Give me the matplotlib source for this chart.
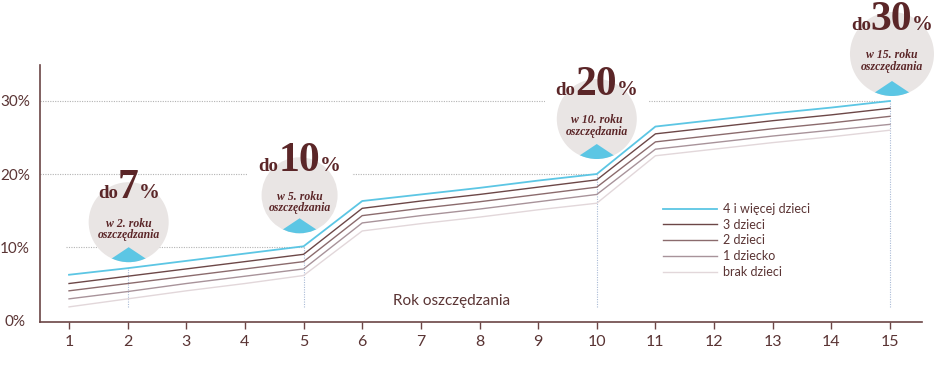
import matplotlib
matplotlib.use("Agg")
import matplotlib.pyplot as plt
import matplotlib.transforms as mtransforms
from matplotlib.patches import Circle, Polygon, Rectangle
from matplotlib.offsetbox import TextArea, HPacker, AnnotationBbox

plt.rcParams['font.family'] = ['Lato', 'DejaVu Sans']

# data (% of savings bonus by year)
years = list(range(1, 16))
kids_4plus = [6.2, 7.1, 8.1, 9.1, 10.1, 16.3, 17.2, 18.1, 19.1, 20.0, 26.5, 27.4, 28.3, 29.1, 30.0]
kids_3 = [5.0, 6.0, 7.0, 8.0, 9.0, 15.3, 16.3, 17.2, 18.2, 19.2, 25.5, 26.4, 27.3, 28.1, 29.0]
kids_2 = [4.0, 5.0, 6.0, 7.0, 8.0, 14.3, 15.3, 16.2, 17.2, 18.2, 24.4, 25.3, 26.2, 27.0, 27.9]
kids_1 = [2.9, 3.9, 5.0, 6.0, 7.0, 13.3, 14.3, 15.2, 16.2, 17.2, 23.4, 24.3, 25.2, 26.0, 26.8]
kids_0 = [1.8, 2.9, 4.0, 5.0, 6.1, 12.2, 13.2, 14.1, 15.1, 16.0, 22.5, 23.4, 24.3, 25.1, 26.0]

series = [kids_4plus, kids_3, kids_2, kids_1, kids_0]
series_labels = ["4 i więcej dzieci", "3 dzieci", "2 dzieci", "1 dziecko", "brak dzieci"]
series_colors = ["#5cc6e4", "#6c4747", "#8b6b6d", "#a8939a", "#e2d7da"]

milestone_years = [2, 5, 10, 15]
milestone_pct = ["7", "10", "20", "30"]
grid_levels = [10, 20, 30]
grid_start = [0.95, 0.5, 0.5]
grid_end = [5, 10, 15]
y_ticks = [0, 10, 20, 30]
y_ticklabels = ["0%", "10%", "20%", "30%"]

# bubble layout, pixels relative to the milestone point
bub_dx = [1, -4, 0, 2]
bub_dy = [46, 51, 55, 47]
bub_r = [40, 38, 40, 42]

DPI = 100
BROWN = "#5b2628"
AXIS = "#6b4545"
TEXT = "#5a3434"
CIRCLE = "#e9e5e4"
CYAN = "#5cc6e4"
SERIF = ["Liberation Serif", "DejaVu Serif"]
BIG = 30


def px(v):
    return v / DPI


fig = plt.figure(figsize=(9.45, 3.69), dpi=DPI)
ax = fig.add_axes([40 / 945, 47 / 369, 882 / 945, 257 / 369])
ax.set_xlim(0.505, 15.546)
ax.set_ylim(-0.27, 34.93)

# grid and milestone guides
for lvl, x0, x1 in zip(grid_levels, grid_start, grid_end):
    ax.hlines(lvl, x0, x1, color="#b3b3b3", linestyles=(0, (1, 1.2)), lw=0.8, zorder=1)
for yr in milestone_years:
    ax.vlines(yr, 1.8, kids_4plus[years.index(yr)], color="#a9bad6",
              linestyles=(0, (1, 1.2)), lw=0.8, zorder=1)

# lines, lightest first so blue is on top
for vals, lab, col in reversed(list(zip(series, series_labels, series_colors))):
    lw = 1.3 if col == CYAN else 1.0
    ax.plot(years, vals, color=col, lw=lw, label=lab, zorder=2)

# bubbles
for i, yr in enumerate(milestone_years):
    top = kids_4plus[years.index(yr)]
    trans = fig.dpi_scale_trans + mtransforms.ScaledTranslation(yr, top, ax.transData)
    cx, cy, r = px(bub_dx[i]), px(bub_dy[i]), px(bub_r[i])
    base = cy + px(24)

    ax.add_patch(Rectangle((cx - px(52), base - px(9)), px(104), px(11), transform=trans,
                           facecolor="white", edgecolor="none", zorder=3))
    circ = Circle((cx, cy), r, transform=trans, facecolor=CIRCLE, edgecolor="none",
                  zorder=4, clip_on=False)
    ax.add_patch(circ)
    tri = Polygon([(cx, cy - r + px(15)), (cx - px(30), cy - r - px(5)), (cx + px(30), cy - r - px(5))],
                  closed=True, transform=trans, facecolor=CYAN, edgecolor="none", zorder=5)
    ax.add_patch(tri)
    tri.set_clip_path(circ)
    tri.set_clip_box(None)

    parts = [TextArea("do", textprops=dict(fontsize=13.5, fontweight="bold", family=SERIF, color=BROWN)),
             TextArea(milestone_pct[i], textprops=dict(fontsize=BIG, fontweight="bold", family=SERIF, color=BROWN)),
             TextArea("%", textprops=dict(fontsize=15, fontweight="bold", family=SERIF, color=BROWN))]
    pack = HPacker(children=parts, align="baseline", pad=0, sep=0)
    desc = 0.22 * BIG * DPI / 72
    ab = AnnotationBbox(pack, (cx, base - px(desc)), xycoords=trans, box_alignment=(0.5, 0),
                        frameon=False, zorder=6, annotation_clip=False)
    ax.add_artist(ab)

    ax.text(cx, cy - px(7), f"w {yr}. roku\noszczędzania", transform=trans, ha="center", va="center",
            fontsize=8.5, fontweight="bold", style="italic", family=SERIF, color=BROWN,
            linespacing=0.9, zorder=6)

ax.text(7.53, 2.64, "Rok oszczędzania", ha="center", va="center", fontsize=11, color=TEXT)

# axes styling
for s in ["top", "right"]:
    ax.spines[s].set_visible(False)
for s in ["left", "bottom"]:
    ax.spines[s].set_color(AXIS)
    ax.spines[s].set_linewidth(1.2)

ax.set_xticks(years)
ax.set_xticklabels([str(y) for y in years])
ax.set_yticks(y_ticks)
ax.set_yticklabels(y_ticklabels)
ax.tick_params(axis="x", length=5, width=1, color=AXIS, labelsize=11.5, labelcolor=TEXT, pad=4)
ax.tick_params(axis="y", length=0, labelsize=11, labelcolor=TEXT, pad=18)
for lab in ax.get_yticklabels():
    lab.set_horizontalalignment("center")

h, l = ax.get_legend_handles_labels()
ax.legend(h[::-1], l[::-1], loc="upper left", bbox_to_anchor=(663 / 945, 1 - 203 / 369),
          bbox_transform=fig.transFigure, frameon=False, fontsize=9, handlelength=4.3,
          handletextpad=0.5, labelspacing=0.3, borderpad=0, borderaxespad=0, labelcolor=TEXT)

fig.savefig("out.png", dpi=DPI)
